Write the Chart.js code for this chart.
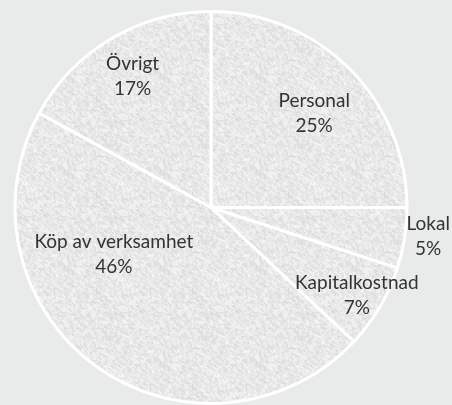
<!DOCTYPE html>
<html>
<head>
<meta charset="utf-8">
<script src="https://cdn.jsdelivr.net/npm/chart.js@4"></script>
<style>
  html, body { margin: 0; padding: 0; background: #e9eaea; }
  #wrap { width: 452px; height: 405px; }
</style>
</head>
<body>
<div id="wrap"><canvas id="kostnadChart" width="452" height="405"></canvas></div>
<script>
// Kostnadsfördelning
const kategorier = ['Personal', 'Lokal', 'Kapitalkostnad', 'Köp av verksamhet', 'Övrigt'];
const andelar = [25, 5, 7, 46, 17];

// granite-like grey fill (deterministic speckle)
function granit() {
    const c = document.createElement('canvas');
    c.width = 96; c.height = 96;
    const g = c.getContext('2d');
    const img = g.createImageData(96, 96);
    const h = (i, j) => {
        const s = Math.sin(i * 12.9898 + j * 78.233) * 43758.5453;
        return s - Math.floor(s);
    };
    for (let y = 0; y < 96; y++) {
        for (let x = 0; x < 96; x++) {
            const n = (h(x >> 1, y >> 1) + h((x + 1) >> 1, (y + 1) >> 1) + h(x, y)) / 3;
            const v = Math.round(214 + n * 36);
            const k = (y * 96 + x) * 4;
            img.data[k] = v; img.data[k + 1] = v; img.data[k + 2] = v; img.data[k + 3] = 255;
        }
    }
    g.putImageData(img, 0, 0);
    return g.createPattern(c, 'repeat');
}

// label placement: [radius factor, angle shift in degrees]
const etikettPlats = [[0.713, 2.6], [1.118, -1.3], [0.868, 0.4], [0.551, 28.1], [0.779, -0.3]];

const etiketter = {
    id: 'etiketter',
    afterDatasetsDraw(chart) {
        const ctx = chart.ctx;
        const meta = chart.getDatasetMeta(0);
        ctx.save();
        ctx.fillStyle = '#333333';
        ctx.font = '19px Lato';
        ctx.textAlign = 'center';
        ctx.textBaseline = 'middle';
        meta.data.forEach((arc, i) => {
            const p = arc.getProps(['x', 'y', 'startAngle', 'endAngle', 'outerRadius']);
            const [rf, shift] = etikettPlats[i];
            const a = (p.startAngle + p.endAngle) / 2 + shift * Math.PI / 180;
            const x = p.x + Math.cos(a) * p.outerRadius * rf;
            const y = p.y + Math.sin(a) * p.outerRadius * rf;
            ctx.fillText(kategorier[i], x, y - 12.5);
            ctx.fillText(andelar[i] + '%', x, y + 12.5);
        });
        ctx.restore();
    }
};

const kostnadCtx = document.getElementById('kostnadChart').getContext('2d');
new Chart(kostnadCtx, {
    type: 'pie',
    data: {
        labels: kategorier,
        datasets: [{
            data: andelar,
            backgroundColor: granit(),
            borderColor: '#ffffff',
            borderWidth: 3
        }]
    },
    options: {
        responsive: false,
        animation: false,
        layout: {
            padding: { left: 13, right: 43, top: 10, bottom: 0 }
        },
        plugins: {
            legend: { display: false },
            tooltip: { enabled: false }
        }
    },
    plugins: [etiketter]
});
</script>
</body>
</html>
